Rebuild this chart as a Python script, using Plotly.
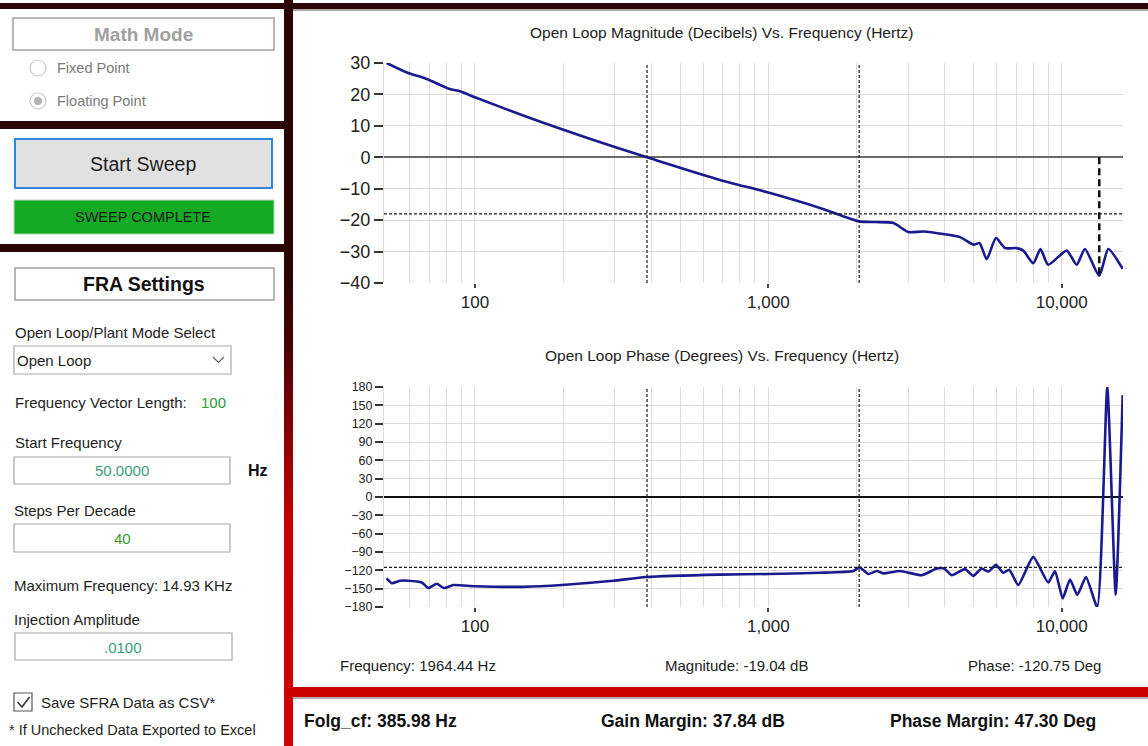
import plotly.graph_objects as go

# ---------------- data ----------------
mag_freq = [50, 58.6, 68.5, 82, 89, 100, 146, 198, 296, 386, 684, 1000, 1500,
            2040, 2300, 2670, 3000, 3380, 4000, 4500, 5000, 5250, 5550, 5970,
            6410, 7030, 7400, 8000, 8470, 8990, 10400, 11250, 12000, 13430,
            14420, 16140]
mag_db = [30, 27, 24.9, 21.7, 21, 19.1, 13.3, 8.9, 3.4, 0, -7.2, -11.2, -16.1,
          -20.4, -20.6, -20.9, -23.8, -23.6, -24.5, -25.4, -27.8, -27.3, -32.4, -25.7,
          -28.9, -28.9, -29.7, -33.7, -29.2, -34.2, -29.7, -34.2, -29.2, -37.7,
          -29.2, -35.5]

phase_freq = [50, 52.1, 55.6, 59.3, 65.9, 69.4, 74.1, 78.5, 84.4, 100, 146, 198,
              296, 383, 684, 1000, 1500, 1949, 2043, 2192, 2342, 2466, 2811,
              3333, 3750, 3972, 4218, 4681, 4996, 5339, 5623, 5971, 6324, 6628,
              7113, 7998, 9000, 9486, 10078, 10674, 11304, 12100, 13220, 14303,
              15280, 16140]
phase_deg = [-133, -141, -137, -137, -140, -149, -142, -149, -144, -146, -147,
             -144, -137, -131, -127, -126, -124, -121, -115, -126, -121, -125,
             -121, -128, -117, -117, -128, -118, -129, -117, -122, -111, -124,
             -119, -144, -98, -140, -121, -166, -135, -160, -131, -180, 180,
             -160, 167]

x_tick_vals = [100, 1000, 10000]
x_tick_text = ["100", "1,000", "10,000"]
x_minor_vals = [60, 70, 80, 90, 200, 300, 400, 500, 600, 700, 800, 900,
                2000, 3000, 4000, 5000, 6000, 7000, 8000, 9000]
mag_ticks = [30, 20, 10, 0, -10, -20, -30, -40]
phase_ticks = [180, 150, 120, 90, 60, 30, 0, -30, -60, -90, -120, -150, -180]

crossover_hz = 385.98
cursor_hz = 2040
cursor_mag_db = -18.0
cursor_phase_deg = -115
gm_freq_hz = 13430
gm_mag_db = -37.7

W, H = 1148, 746
FONT = "Liberation Sans, Arial, sans-serif"
NAVY = "#1a1a8e"
GRID = "#dcdcdc"
DARK = (43, 4, 6)
RED = (208, 0, 0)


def px(x):
    return x / W


def py(y):
    return 1 - y / H


shapes = []
annotations = []


def rect(x0, y0, x1, y1, fill="rgba(0,0,0,0)", line=None, lw=0, layer="above"):
    shapes.append(dict(type="rect", xref="paper", yref="paper",
                       x0=px(x0), x1=px(x1), y0=py(y1), y1=py(y0),
                       fillcolor=fill, line=dict(color=line or "rgba(0,0,0,0)", width=lw),
                       layer=layer))


def text(x, y, s, size=15, color="#1e1e1e", anchor="left", bold=False):
    annotations.append(dict(xref="paper", yref="paper", x=px(x), y=py(y),
                            text=("<b>%s</b>" % s) if bold else s, showarrow=False,
                            xanchor=anchor, yanchor="middle", borderpad=0,
                            font=dict(family=FONT, size=size, color=color)))


def path(pts, color, width):
    d = "M " + " L ".join("%f,%f" % (px(a), py(b)) for a, b in pts)
    shapes.append(dict(type="path", xref="paper", yref="paper", path=d,
                       line=dict(color=color, width=width)))


def mix(c1, c2, t):
    return "rgb(%d,%d,%d)" % tuple(round(a + (b - a) * t) for a, b in zip(c1, c2))


# ---------------- frame / borders ----------------
rect(0, 3, W, 9, fill=mix(DARK, DARK, 0), layer="below")
rect(293, 9, W, 11, fill="#a8a8a8", layer="below")
stops = [(0, 0.0), (270, 0.0), (340, 0.15), (440, 0.6), (530, 0.95), (746, 1.0)]


def grad_t(y):
    for (ya, ta), (yb, tb) in zip(stops[:-1], stops[1:]):
        if ya <= y <= yb:
            return ta + (tb - ta) * (y - ya) / (yb - ya)
    return 1.0


for y in range(0, 746, 4):
    rect(284, y, 293, min(y + 4.5, 746), fill=mix(DARK, RED, grad_t(y + 2)), layer="below")
rect(0, 121, 285, 129, fill=mix(DARK, DARK, 0), layer="below")
rect(0, 244, 285, 252, fill=mix(DARK, DARK, 0), layer="below")
rect(284, 687, W, 697, fill="rgb(204,0,0)", layer="below")
rect(293, 697, W, 699, fill="#b0b0b0", layer="below")

# ---------------- left panel: Math Mode ----------------
rect(13, 18, 274, 50, fill="#ffffff", line="#a0a0a0", lw=1.5)
text(143, 34, "Math Mode", size=19, color="#a0a0a0", anchor="center", bold=True)
shapes.append(dict(type="circle", xref="paper", yref="paper", x0=px(30), x1=px(46),
                   y0=py(76), y1=py(60), line=dict(color="#c8c8c8", width=1.2),
                   fillcolor="#ffffff"))
shapes.append(dict(type="circle", xref="paper", yref="paper", x0=px(30), x1=px(46),
                   y0=py(109), y1=py(93), line=dict(color="#c8c8c8", width=1.2),
                   fillcolor="#ffffff"))
shapes.append(dict(type="circle", xref="paper", yref="paper", x0=px(34), x1=px(42),
                   y0=py(105), y1=py(97), line=dict(color="#b4b4b4", width=0),
                   fillcolor="#b4b4b4"))
text(56, 68, "Fixed Point", size=14.5, color="#7a7a7a")
text(56, 101, "Floating Point", size=14.5, color="#7a7a7a")

# ---------------- Start Sweep ----------------
rect(15, 139, 272, 188, fill="#e1e1e1", line="#2f86dc", lw=2)
text(143, 164, "Start Sweep", size=19.5, color="#1e1e1e", anchor="center")
rect(14, 200, 274, 234, fill="#14aa24", line="#b8d8b8", lw=1)
text(143, 217, "SWEEP COMPLETE", size=14.5, color="#1a1a1a", anchor="center")

# ---------------- FRA settings ----------------
rect(15, 268, 274, 300, fill="#ffffff", line="#a0a0a0", lw=1.5)
text(144, 284, "FRA Settings", size=19.5, color="#111111", anchor="center", bold=True)
text(14, 332, "Open Loop/Plant Mode Select", size=15, color="#1e1e1e")
rect(14, 346, 231, 374, fill="#ffffff", line="#a8a8a8", lw=1.2)
text(16, 360, "Open Loop", size=15, color="#1e1e1e")
path([(213, 357), (218.5, 362.5), (224, 357)], "#606060", 1.2)
text(14, 402, "Frequency Vector Length:", size=15, color="#1e1e1e")
text(200, 402, "100", size=15, color="#2f9a3a")
text(14, 443, "Start Frequency", size=15, color="#1e1e1e")
rect(14, 457, 230, 484, fill="#ffffff", line="#a8a8a8", lw=1.2)
text(122, 470, "50.0000", size=15, color="#3a9d80", anchor="center")
text(258, 470, "Hz", size=16, color="#111111", anchor="center", bold=True)
text(13, 510, "Steps Per Decade", size=15, color="#1e1e1e")
rect(14, 524, 230, 552, fill="#ffffff", line="#a8a8a8", lw=1.2)
text(122, 538, "40", size=15, color="#3a9a2e", anchor="center")
text(13, 585, "Maximum Frequency: 14.93 KHz", size=15, color="#1e1e1e")
text(13, 619, "Injection Amplitude", size=15, color="#1e1e1e")
rect(15, 633, 232, 660, fill="#ffffff", line="#a8a8a8", lw=1.2)
text(123, 647, ".0100", size=15, color="#3a9d80", anchor="center")
rect(14, 693, 32, 711, fill="#ffffff", line="#555555", lw=1.2)
path([(17.5, 702), (22, 707), (29.5, 697)], "#333333", 1.5)
text(40, 702, "Save SFRA Data as CSV*", size=15, color="#1e1e1e")
text(8, 730, "* If Unchecked Data Exported to Excel", size=14.5, color="#1e1e1e")

# ---------------- chart titles / readouts ----------------
text(721, 32, "Open Loop Magnitude (Decibels) Vs. Frequency (Hertz)", size=15.5,
     color="#222222", anchor="center")
text(722, 355, "Open Loop Phase (Degrees) Vs. Frequency (Hertz)", size=15.5,
     color="#222222", anchor="center")
text(418, 665, "Frequency: 1964.44 Hz", size=15, color="#222222", anchor="center")
text(736, 665, "Magnitude: -19.04 dB", size=15, color="#222222", anchor="center")
text(1034, 665, "Phase: -120.75 Deg", size=15, color="#222222", anchor="center")
text(380, 721, "Folg_cf: 385.98 Hz", size=17.5, color="#111111", anchor="center", bold=True)
text(693, 721, "Gain Margin: 37.84 dB", size=17.5, color="#111111", anchor="center", bold=True)
text(993, 721, "Phase Margin: 47.30 Deg", size=17.5, color="#111111", anchor="center", bold=True)

# ---------------- cursor / margin lines on data axes ----------------
DASH = dict(color="#1a1a1a", width=1.2, dash="3px,2px")
for yr, ylo, yhi, lvl in (("y", -40, 30, cursor_mag_db), ("y2", -180, 180, cursor_phase_deg)):
    xr = "x" if yr == "y" else "x2"
    for f in (crossover_hz, cursor_hz):
        shapes.append(dict(type="line", xref=xr, yref=yr, x0=f, x1=f, y0=ylo, y1=yhi,
                           line=DASH, layer="above"))
    shapes.append(dict(type="line", xref="%s domain" % xr, yref=yr, x0=0, x1=1,
                       y0=lvl, y1=lvl, line=DASH, layer="above"))
shapes.append(dict(type="line", xref="x", yref="y", x0=gm_freq_hz, x1=gm_freq_hz,
                   y0=0, y1=gm_mag_db, line=dict(color="#111111", width=2.5, dash="7px,4px"),
                   layer="above"))

# ---------------- traces ----------------
fig = go.Figure()
fig.add_trace(go.Scatter(x=mag_freq, y=mag_db, mode="lines", xaxis="x", yaxis="y",
                         line=dict(color=NAVY, width=2.6, shape="spline", smoothing=0.6),
                         hoverinfo="skip"))
fig.add_trace(go.Scatter(x=phase_freq, y=phase_deg, mode="lines", xaxis="x2", yaxis="y2",
                         line=dict(color=NAVY, width=2.6, shape="spline", smoothing=0.5),
                         hoverinfo="skip"))

xr = [1.690, 4.209]
xdom = [384 / W, 1123 / W]
common_x = dict(type="log", range=xr, domain=xdom, tickvals=x_tick_vals,
                ticktext=x_tick_text, ticks="outside", ticklen=4, tickwidth=1.5,
                tickcolor="#444444", tickfont=dict(family=FONT, size=17, color="#222222"),
                showgrid=True, gridcolor=GRID, gridwidth=1, zeroline=False, showline=False,
                minor=dict(tickvals=x_minor_vals, showgrid=True, gridcolor=GRID,
                           gridwidth=1, ticks=""),
                automargin=False, fixedrange=True)

fig.update_layout(
    width=W, height=H, margin=dict(l=0, r=0, t=0, b=0, pad=0), autosize=False,
    paper_bgcolor="#ffffff", plot_bgcolor="#ffffff", showlegend=False,
    xaxis=dict(anchor="y", **common_x),
    xaxis2=dict(anchor="y2", **common_x),
    yaxis=dict(anchor="x", range=[-40, 30], domain=[py(283), py(63)],
               tickvals=mag_ticks, ticks="outside", ticklen=9, tickwidth=2,
               tickcolor="#333333", tickfont=dict(family=FONT, size=18, color="#222222"),
               showgrid=True, gridcolor=GRID, zeroline=True, zerolinecolor="#6a6a6a",
               zerolinewidth=2, showline=True, linecolor=GRID, linewidth=1,
               automargin=False, fixedrange=True),
    yaxis2=dict(anchor="x2", range=[-180, 180], domain=[py(607), py(387)],
                tickvals=phase_ticks, ticks="outside", ticklen=8, tickwidth=2,
                tickcolor="#333333", tickfont=dict(family=FONT, size=12.5, color="#222222"),
                showgrid=True, gridcolor=GRID, zeroline=True, zerolinecolor="#111111",
                zerolinewidth=1.5, showline=True, linecolor=GRID, linewidth=1,
                automargin=False, fixedrange=True),
    shapes=shapes, annotations=annotations,
)

fig.write_html("out.html", config=dict(displayModeBar=False))
